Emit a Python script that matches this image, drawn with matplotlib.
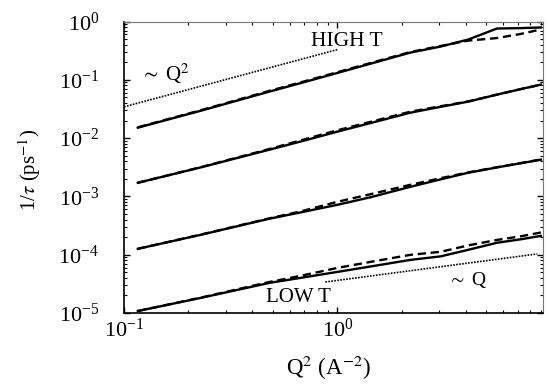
"""
Relaxation rate 1/tau vs Q^2 on log-log axes, high to low temperature,
with ~Q^2 and ~Q guide lines.
"""

import matplotlib
matplotlib.use('Agg')
import matplotlib.pyplot as plt
from matplotlib.ticker import LogLocator, NullFormatter

plt.rcParams.update({
    'font.family': 'serif',
    'font.serif': ['Liberation Serif', 'DejaVu Serif'],
    'mathtext.fontset': 'stix',
    'font.size': 15,
    'axes.linewidth': 1.2,
})

# Q^2 grid (A^-2)
q2 = [0.116, 0.23, 0.48, 0.67, 1.0, 1.43, 2.2, 3.05, 4.1, 5.6, 7.2, 9.0]

# 1/tau (ps^-1), highest temperature first
rate_hi = [0.0151, 0.0296, 0.0627, 0.0874, 0.131, 0.189, 0.293, 0.372, 0.49, 0.758, 0.77, 0.79]
rate_hi_dash = [0.0153, 0.0302, 0.0645, 0.090, 0.135, 0.194, 0.30, 0.38, 0.47, 0.52, 0.61, 0.73]

rate_2 = [0.00171, 0.00316, 0.00632, 0.0087, 0.0129, 0.0181, 0.0273, 0.0344, 0.0422, 0.0557, 0.0689, 0.0827]
rate_2_dash = [0.00171, 0.00318, 0.00650, 0.0091, 0.0136, 0.0190, 0.0284, 0.0352, 0.0425, 0.0557, 0.0689, 0.0827]

rate_3 = [1.26e-4, 2.2e-4, 4.14e-4, 5.3e-4, 7.17e-4, 9.66e-4, 1.46e-3, 1.96e-3, 2.54e-3, 3.14e-3, 3.69e-3, 4.26e-3]
rate_3_dash = [1.26e-4, 2.22e-4, 4.2e-4, 5.5e-4, 8.07e-4, 1.09e-3, 1.58e-3, 2.05e-3, 2.58e-3, 3.16e-3, 3.72e-3, 4.3e-3]

rate_lo = [1.08e-5, 1.82e-5, 3.28e-5, 3.99e-5, 5.06e-5, 6.27e-5, 8.14e-5, 9.35e-5, 1.21e-4, 1.6e-4, 1.83e-4, 2.1e-4]
rate_lo_dash = [1.08e-5, 1.84e-5, 3.4e-5, 4.32e-5, 5.93e-5, 7.52e-5, 9.93e-5, 1.12e-4, 1.44e-4, 1.79e-4, 2.06e-4, 2.4e-4]

# guide lines
guide_q2_x = [0.1, 1.0]
guide_q2_y = [0.0344, 0.33]
guide_q_x = [0.878, 8.66]
guide_q_y = [3.4e-5, 1.03e-4]


def main():
    fig = plt.figure(figsize=(5.49, 3.84), dpi=100)
    ax = fig.add_axes([0.226, 0.185, 0.763, 0.759])

    solid = [rate_hi, rate_2, rate_3, rate_lo]
    dashed = [rate_hi_dash, rate_2_dash, rate_3_dash, rate_lo_dash]
    for ys, yd in zip(solid, dashed):
        ax.plot(q2, ys, color='black', linewidth=1.7, linestyle='-')
        ax.plot(q2, yd, color='black', linewidth=1.7, linestyle=(0, (3.5, 2)))

    ax.plot(guide_q2_x, guide_q2_y, color='black', linewidth=1.2, linestyle=(0, (1, 0.8)))
    ax.plot(guide_q_x, guide_q_y, color='black', linewidth=1.2, linestyle=(0, (1, 0.8)))

    ax.text(0.156, 0.128, r'$\sim$ Q$^2$', ha='center', va='center', fontsize=15)
    ax.text(1.11, 0.45, 'HIGH T', ha='center', va='center', fontsize=15.5)
    ax.text(0.657, 1.81e-5, 'LOW T', ha='center', va='center', fontsize=15)
    ax.text(4.08, 3.69e-5, r'$\sim$ Q', ha='center', va='center', fontsize=14)

    ax.set_xscale('log')
    ax.set_yscale('log')
    ax.set_xlim(0.1, 9.2)
    ax.set_ylim(1e-5, 1)

    ax.yaxis.set_major_locator(LogLocator(base=10, numticks=10))
    ax.yaxis.set_minor_locator(LogLocator(base=10, subs=range(2, 10), numticks=10))
    ax.yaxis.set_minor_formatter(NullFormatter())
    ax.xaxis.set_minor_formatter(NullFormatter())

    ax.tick_params(which='both', direction='in', top=True, right=True, labelsize=16)
    ax.tick_params(which='major', length=4, width=1)
    ax.tick_params(which='minor', length=2.5, width=0.8)
    ax.tick_params(axis='x', pad=4)
    ax.tick_params(axis='y', pad=18)

    for side in ('top', 'right'):
        ax.spines[side].set_color('#777777')
        ax.spines[side].set_linewidth(0.8)

    ax.set_xlabel(r'Q$^2$ (A$^{-2}$)', fontsize=16.5)
    ax.set_ylabel(r'1/$\tau$ (ps$^{-1}$)', fontsize=15)
    ax.xaxis.set_label_coords(0.487, -0.14)
    ax.yaxis.set_label_coords(-0.193, 0.49)

    fig.savefig('out.png', dpi=100)
    plt.close(fig)


if __name__ == '__main__':
    main()
